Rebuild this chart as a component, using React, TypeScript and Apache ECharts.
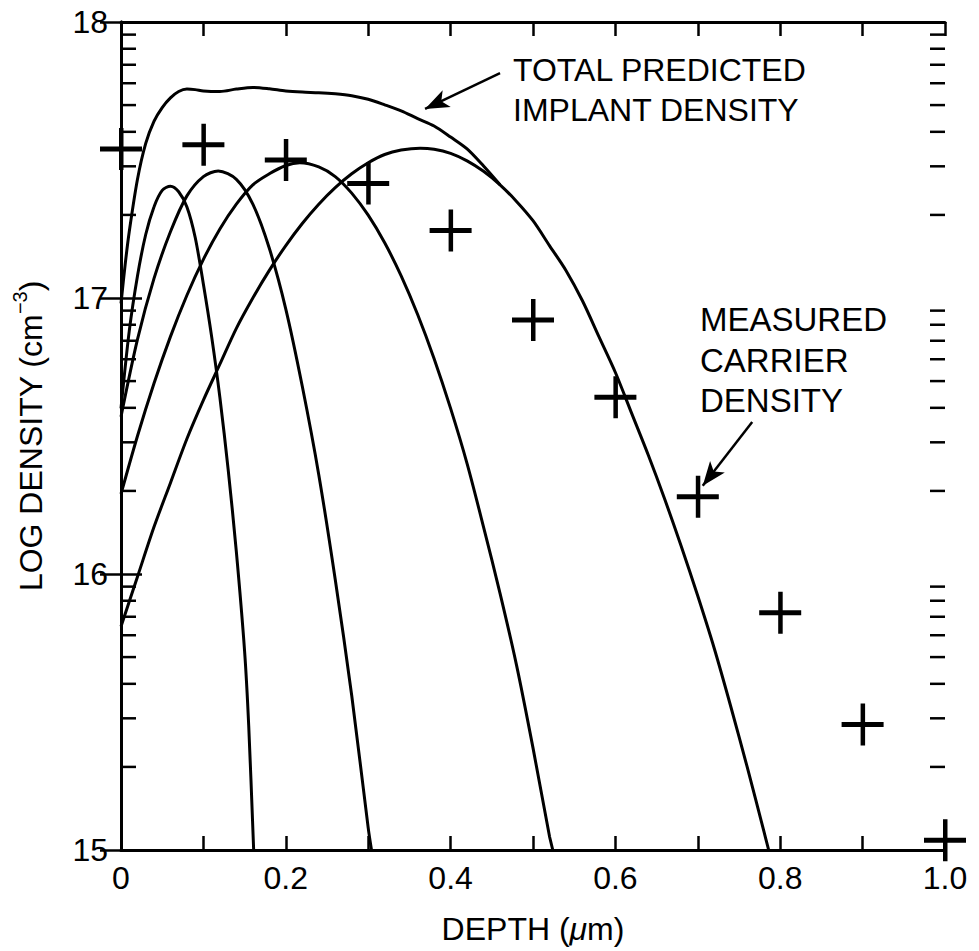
import React, { useEffect, useRef } from "react";
import * as echarts from "echarts";

// ---- data (depth in µm, log10 density in cm^-3) ----
const measuredDepth = [0, 0.1, 0.2, 0.3, 0.4, 0.5, 0.6, 0.7, 0.8, 0.9, 1.0];
const measuredLogDensity = [17.54, 17.555, 17.5, 17.415, 17.245, 16.92, 16.64, 16.28, 15.86, 15.455, 15.035];

const implant1: [number, number][] = [
  [0, 16.6], [0.01, 16.88], [0.02, 17.08], [0.03, 17.23], [0.04, 17.33], [0.05, 17.39], [0.06, 17.405],
  [0.07, 17.385], [0.08, 17.33], [0.09, 17.22], [0.1, 17.05], [0.11, 16.86], [0.12, 16.64], [0.13, 16.38],
  [0.14, 16.08], [0.15, 15.72], [0.155, 15.45], [0.161, 15.0],
];
const implant2: [number, number][] = [
  [0, 16.57], [0.02, 16.85], [0.04, 17.07], [0.06, 17.24], [0.08, 17.37], [0.1, 17.44], [0.118, 17.46],
  [0.14, 17.43], [0.16, 17.34], [0.18, 17.18], [0.2, 16.96], [0.22, 16.68], [0.24, 16.36], [0.26, 15.98],
  [0.28, 15.56], [0.3, 15.08], [0.304, 15.0],
];
const implant3: [number, number][] = [
  [0, 16.29], [0.02, 16.5], [0.04, 16.69], [0.06, 16.86], [0.08, 17.01], [0.1, 17.14], [0.12, 17.25],
  [0.14, 17.34], [0.16, 17.41], [0.18, 17.45], [0.2, 17.48], [0.217, 17.49], [0.24, 17.475], [0.26, 17.44],
  [0.28, 17.38], [0.3, 17.3], [0.32, 17.2], [0.34, 17.08], [0.36, 16.94], [0.38, 16.78], [0.4, 16.6],
  [0.42, 16.4], [0.44, 16.17], [0.46, 15.93], [0.48, 15.67], [0.5, 15.37], [0.52, 15.05], [0.524, 15.0],
];
const implant4: [number, number][] = [
  [0, 15.81], [0.02, 15.99], [0.04, 16.17], [0.06, 16.33], [0.08, 16.49], [0.1, 16.63], [0.12, 16.76],
  [0.14, 16.89], [0.16, 17.0], [0.18, 17.1], [0.2, 17.19], [0.22, 17.27], [0.24, 17.34], [0.26, 17.4],
  [0.28, 17.45], [0.3, 17.49], [0.32, 17.52], [0.34, 17.536], [0.363, 17.543], [0.38, 17.539], [0.4, 17.524],
  [0.42, 17.497], [0.44, 17.459], [0.46, 17.41], [0.48, 17.35], [0.5, 17.28], [0.52, 17.19], [0.54, 17.1],
  [0.56, 16.99], [0.58, 16.86], [0.6, 16.73], [0.62, 16.58], [0.64, 16.43], [0.66, 16.27], [0.68, 16.1],
  [0.7, 15.92], [0.72, 15.73], [0.74, 15.52], [0.76, 15.3], [0.78, 15.07], [0.786, 15.0],
];
const totalImplant: [number, number][] = [
  [0, 16.98], [0.005, 17.12], [0.01, 17.24], [0.02, 17.43], [0.03, 17.56], [0.04, 17.64], [0.05, 17.69],
  [0.06, 17.725], [0.07, 17.748], [0.08, 17.757], [0.09, 17.755], [0.1, 17.75], [0.12, 17.748], [0.14, 17.757],
  [0.16, 17.763], [0.18, 17.758], [0.2, 17.75], [0.22, 17.746], [0.24, 17.744], [0.26, 17.74], [0.28, 17.733],
  [0.3, 17.72], [0.32, 17.7], [0.34, 17.678], [0.36, 17.65], [0.38, 17.623], [0.4, 17.583], [0.42, 17.54],
  [0.44, 17.478], [0.46, 17.41],
];

const depthTickLabels = ["0", "0.2", "0.4", "0.6", "0.8", "1.0"];
const decadeLabels = ["15", "16", "17", "18"];
const minorDecades = [15, 16, 17];
const minorMultipliers = [2, 3, 4, 5, 6, 7, 8, 9];

// annotation arrows: [start, tip] in data coords
const totalArrow: [number, number][] = [[0.46, 17.815], [0.369, 17.685]];
const measuredArrow: [number, number][] = [[0.766, 16.551], [0.706, 16.32]];

const FONT = '"Liberation Sans", Arial, Helvetica, sans-serif';

export default function App() {
  const ref = useRef<HTMLDivElement>(null);

  useEffect(() => {
    if (!ref.current) return;
    const chart = echarts.init(ref.current, undefined, { renderer: "svg" });

    const minorTicks: number[][] = [];
    minorDecades.forEach((d) => minorMultipliers.forEach((m) => minorTicks.push([0, d + Math.log10(m)])));

    const curveStyle = { color: "#000", width: 3 };
    const lineSeries = (name: string, data: [number, number][], extra: any = {}) => ({
      type: "line",
      name,
      data,
      showSymbol: false,
      symbol: "none",
      smooth: 0.3,
      lineStyle: curveStyle,
      clip: true,
      z: 3,
      ...extra,
    });

    const option: any = {
      animation: false,
      backgroundColor: "#fff",
      textStyle: { fontFamily: FONT, color: "#000" },
      grid: { left: 121, right: 34, top: 22, bottom: 101, containLabel: false, outerBoundsMode: "none" },
      xAxis: [
        {
          type: "value",
          position: "bottom",
          min: 0,
          max: 1,
          interval: 0.1,
          axisLine: { show: true, lineStyle: { color: "#000", width: 3 } },
          axisTick: { show: true, inside: true, length: 14, lineStyle: { color: "#000", width: 2.5 } },
          splitLine: { show: false },
          axisLabel: {
            show: true,
            margin: 12,
            fontSize: 32,
            fontFamily: FONT,
            color: "#000",
            formatter: (v: number) => {
              const t = Math.round(v * 10);
              return t % 2 === 0 ? depthTickLabels[t / 2] : "";
            },
          },
          name: "{a|DEPTH (}{i|μ}{a|m)}",
          nameLocation: "middle",
          nameGap: 63,
          nameMoveOverlap: false,
          nameTextStyle: {
            rich: {
              a: { fontSize: 32, fontFamily: FONT, color: "#000" },
              i: { fontSize: 32, fontFamily: FONT, fontStyle: "italic", color: "#000" },
            },
          },
        },
        {
          type: "value",
          position: "top",
          min: 0,
          max: 1,
          interval: 0.1,
          axisLine: { show: true, lineStyle: { color: "#000", width: 3 } },
          axisTick: { show: true, inside: true, length: 14, lineStyle: { color: "#000", width: 2.5 } },
          splitLine: { show: false },
          axisLabel: { show: false },
        },
      ],
      yAxis: [
        {
          type: "value",
          position: "left",
          min: 15,
          max: 18,
          interval: 1,
          axisLine: { show: true, lineStyle: { color: "#000", width: 3 } },
          axisTick: { show: true, inside: true, length: 21, lineStyle: { color: "#000", width: 2.5 } },
          splitLine: { show: false },
          axisLabel: {
            show: true,
            margin: 13,
            fontSize: 32,
            fontFamily: FONT,
            color: "#000",
            padding: [0, 0, 10, 0],
            formatter: (v: number) => decadeLabels[Math.round(v) - 15] ?? "",
          },
          name: "{a|LOG DENSITY (cm}{s|−3}{a|)}",
          nameLocation: "middle",
          nameGap: 69,
          nameRotate: 90,
          nameMoveOverlap: false,
          nameTextStyle: {
            rich: {
              a: { fontSize: 32, fontFamily: FONT, color: "#000", lineHeight: 42 },
              s: { fontSize: 20, fontFamily: FONT, color: "#000", verticalAlign: "top", lineHeight: 20 },
            },
          },
        },
        {
          type: "value",
          position: "right",
          min: 15,
          max: 18,
          interval: 1,
          axisLine: { show: true, lineStyle: { color: "#000", width: 3 } },
          axisTick: { show: true, inside: true, length: 21, lineStyle: { color: "#000", width: 2.5 } },
          splitLine: { show: false },
          axisLabel: { show: false },
        },
      ],
      series: [
        {
          type: "custom",
          name: "minor ticks",
          data: minorTicks,
          encode: { x: 0, y: 1 },
          silent: true,
          clip: false,
          z: 2,
          renderItem: (params: any, api: any) => {
            const p = api.coord([0, api.value(1)]);
            const cs = params.coordSys;
            const st = { stroke: "#000", lineWidth: 2.5 };
            return {
              type: "group",
              children: [
                { type: "line", shape: { x1: cs.x, y1: p[1], x2: cs.x + 15, y2: p[1] }, style: st },
                { type: "line", shape: { x1: cs.x + cs.width - 15, y1: p[1], x2: cs.x + cs.width, y2: p[1] }, style: st },
              ],
            };
          },
        },
        lineSeries("implant 1", implant1),
        lineSeries("implant 2", implant2),
        lineSeries("implant 3", implant3),
        lineSeries("implant 4", implant4),
        lineSeries("total predicted implant density", totalImplant, {
          markLine: {
            silent: true,
            symbol: ["none", "arrow"],
            symbolSize: [14, 24],
            lineStyle: { color: "#000", width: 2.5, type: "solid" },
            label: { show: false },
            emphasis: { disabled: true },
            data: [
              [{ coord: totalArrow[0] }, { coord: totalArrow[1] }],
              [{ coord: measuredArrow[0] }, { coord: measuredArrow[1] }],
            ],
          },
        }),
        {
          type: "scatter",
          name: "measured carrier density",
          data: measuredDepth.map((d, i) => [d, measuredLogDensity[i]]),
          symbol: "path://M19,0H23.5V18.5H42V23.5H23.5V42H19V23.5H0V18.5H19Z",
          symbolSize: 42,
          itemStyle: { color: "#000", opacity: 1 },
          clip: false,
          z: 4,
        },
      ],
      graphic: [
        { type: "text", left: 513, top: 54, style: { text: "TOTAL PREDICTED", font: `32px ${FONT}`, fill: "#000" } },
        { type: "text", left: 513, top: 94, style: { text: "IMPLANT DENSITY", font: `32px ${FONT}`, fill: "#000" } },
        { type: "text", left: 700, top: 303, style: { text: "MEASURED", font: `33px ${FONT}`, fill: "#000" } },
        { type: "text", left: 700, top: 344, style: { text: "CARRIER", font: `33px ${FONT}`, fill: "#000" } },
        { type: "text", left: 700, top: 384, style: { text: "DENSITY", font: `33px ${FONT}`, fill: "#000" } },
      ],
    };

    chart.setOption(option);
    return () => chart.dispose();
  }, []);

  return <div ref={ref} style={{ position: "fixed", left: 0, top: 0, width: 979, height: 951, background: "#fff" }} />;
}
